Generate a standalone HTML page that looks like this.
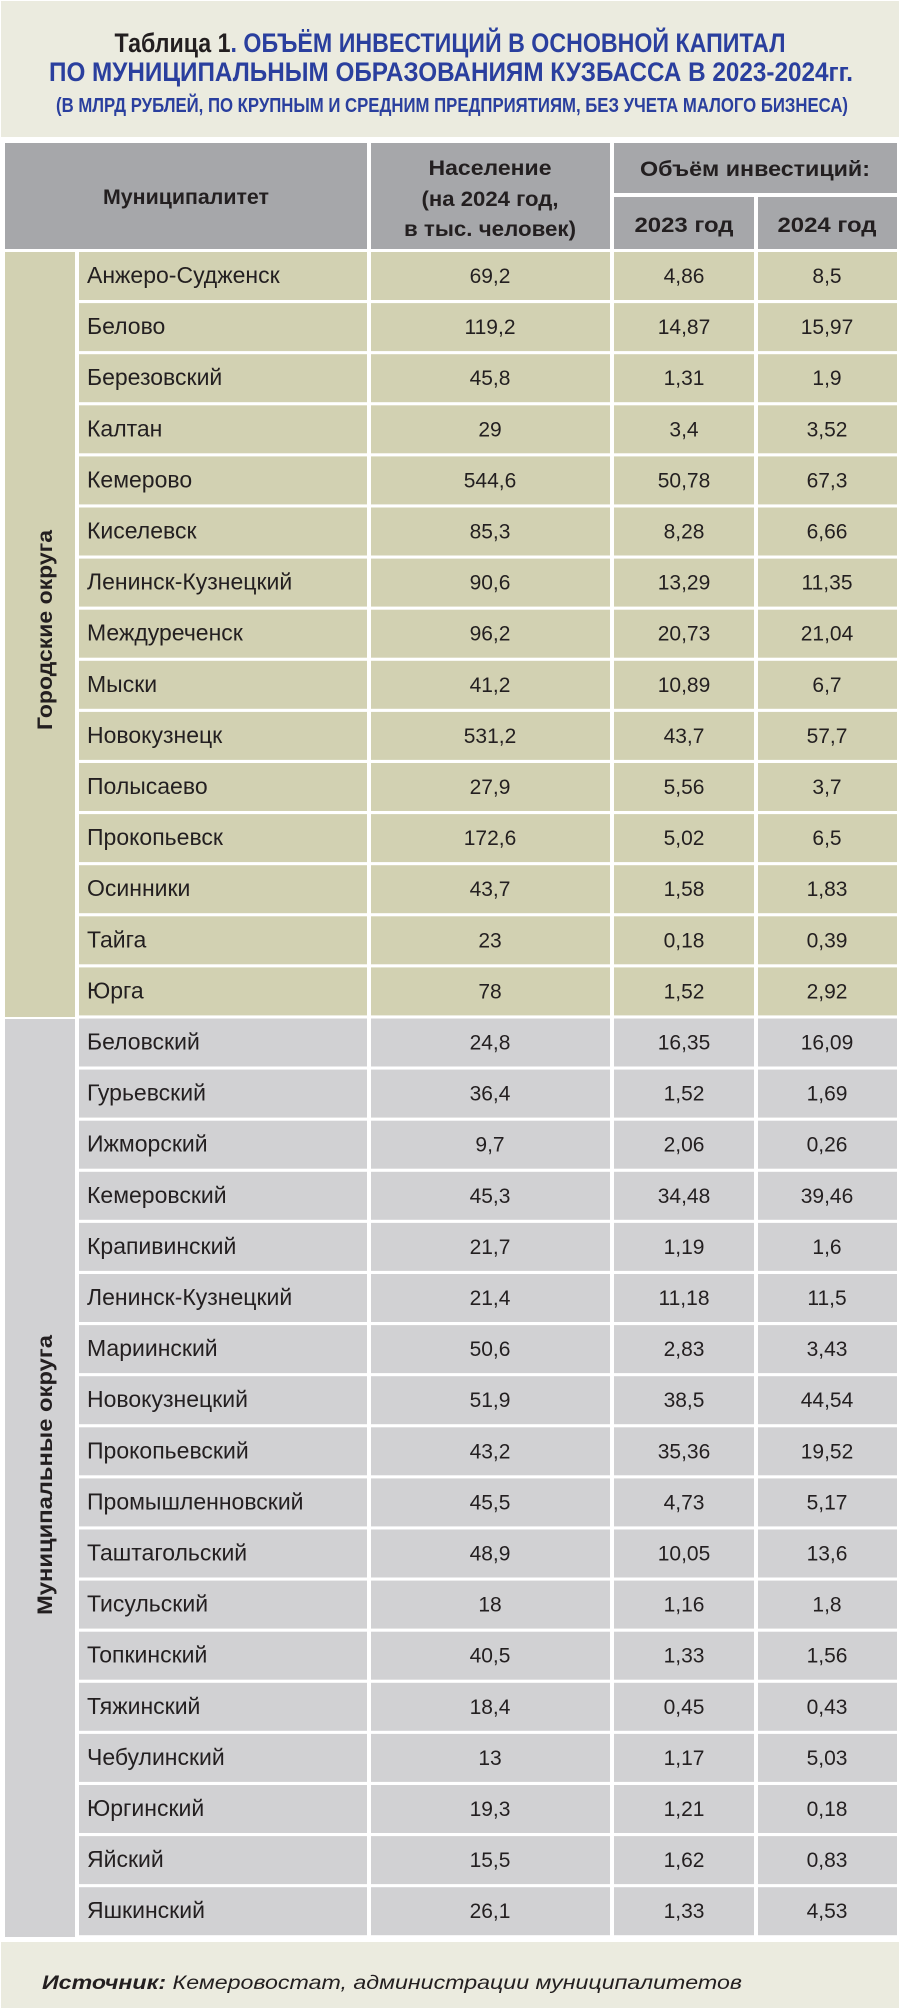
<!DOCTYPE html>
<html><head><meta charset="utf-8"><style>
html,body{margin:0;padding:0;background:#fff}
svg{display:block}
text{font-family:"Liberation Sans",sans-serif;fill:#231f20}
.r{font-size:21px}
.n{font-size:23px}
.h{font-size:21px;font-weight:bold}
</style></head><body>
<svg width="901" height="2009" viewBox="0 0 901 2009" xmlns="http://www.w3.org/2000/svg">
<rect x="0" y="0" width="901" height="2009" fill="#fff"/>
<rect x="1" y="1" width="898" height="136" fill="#ebebdf"/>
<text x="450" y="52" text-anchor="middle" font-weight="bold" font-size="27" textLength="671" lengthAdjust="spacingAndGlyphs"><tspan fill="#231f20">Таблица 1</tspan><tspan style="fill:#2a3f9e">. ОБЪЁМ ИНВЕСТИЦИЙ В ОСНОВНОЙ КАПИТАЛ</tspan></text>
<text x="451" y="81" text-anchor="middle" font-weight="bold" font-size="27" style="fill:#2a3f9e" textLength="804" lengthAdjust="spacingAndGlyphs">ПО МУНИЦИПАЛЬНЫМ ОБРАЗОВАНИЯМ КУЗБАССА В 2023-2024гг.</text>
<text x="452" y="112" text-anchor="middle" font-weight="bold" font-size="20" style="fill:#2a3f9e" textLength="792" lengthAdjust="spacingAndGlyphs">(В МЛРД РУБЛЕЙ, ПО КРУПНЫМ И СРЕДНИМ ПРЕДПРИЯТИЯМ, БЕЗ УЧЕТА МАЛОГО БИЗНЕСА)</text>

<g fill="#a6a7aa">
<rect x="5" y="143" width="362" height="106"/>
<rect x="371" y="143" width="239" height="106"/>
<rect x="614" y="143" width="283" height="50"/>
<rect x="614" y="197" width="140" height="52"/>
<rect x="758" y="197" width="139" height="52"/>
</g>
<text class="h" x="186" y="204" text-anchor="middle" textLength="166" lengthAdjust="spacingAndGlyphs">Муниципалитет</text>
<text class="h" x="490" y="175" text-anchor="middle" textLength="123" lengthAdjust="spacingAndGlyphs">Население</text>
<text class="h" x="490" y="206" text-anchor="middle" textLength="137" lengthAdjust="spacingAndGlyphs">(на 2024 год,</text>
<text class="h" x="490" y="236" text-anchor="middle" textLength="172" lengthAdjust="spacingAndGlyphs">в тыс. человек)</text>
<text class="h" x="755" y="176" text-anchor="middle" textLength="230" lengthAdjust="spacingAndGlyphs">Объём инвестиций:</text>
<text class="h" x="684" y="232" text-anchor="middle" textLength="99" lengthAdjust="spacingAndGlyphs">2023 год</text>
<text class="h" x="827" y="232" text-anchor="middle" textLength="99" lengthAdjust="spacingAndGlyphs">2024 год</text>

<rect x="5" y="252" width="70" height="765" fill="#d2d1b2"/>
<rect x="5" y="1019" width="70" height="918" fill="#d1d1d3"/>
<text class="h" transform="translate(52,630) rotate(-90)" text-anchor="middle" font-size="21" textLength="200" lengthAdjust="spacingAndGlyphs">Городские округа</text>
<text class="h" transform="translate(52,1475) rotate(-90)" text-anchor="middle" font-size="21" textLength="280" lengthAdjust="spacingAndGlyphs">Муниципальные округа</text>

<g id="rows"></g>

<rect x="1" y="1942" width="898" height="66" fill="#ebebdf"/>
<text x="42" y="1989" font-size="19" font-style="italic" textLength="700" lengthAdjust="spacingAndGlyphs"><tspan font-weight="bold">Источник:</tspan> Кемеровостат, администрации муниципалитетов</text>
</svg>
<script>
var d=[["Анжеро-Судженск","69,2","4,86","8,5"],["Белово","119,2","14,87","15,97"],["Березовский","45,8","1,31","1,9"],["Калтан","29","3,4","3,52"],["Кемерово","544,6","50,78","67,3"],["Киселевск","85,3","8,28","6,66"],["Ленинск-Кузнецкий","90,6","13,29","11,35"],["Междуреченск","96,2","20,73","21,04"],["Мыски","41,2","10,89","6,7"],["Новокузнецк","531,2","43,7","57,7"],["Полысаево","27,9","5,56","3,7"],["Прокопьевск","172,6","5,02","6,5"],["Осинники","43,7","1,58","1,83"],["Тайга","23","0,18","0,39"],["Юрга","78","1,52","2,92"],
["Беловский","24,8","16,35","16,09"],["Гурьевский","36,4","1,52","1,69"],["Ижморский","9,7","2,06","0,26"],["Кемеровский","45,3","34,48","39,46"],["Крапивинский","21,7","1,19","1,6"],["Ленинск-Кузнецкий","21,4","11,18","11,5"],["Мариинский","50,6","2,83","3,43"],["Новокузнецкий","51,9","38,5","44,54"],["Прокопьевский","43,2","35,36","19,52"],["Промышленновский","45,5","4,73","5,17"],["Таштагольский","48,9","10,05","13,6"],["Тисульский","18","1,16","1,8"],["Топкинский","40,5","1,33","1,56"],["Тяжинский","18,4","0,45","0,43"],["Чебулинский","13","1,17","5,03"],["Юргинский","19,3","1,21","0,18"],["Яйский","15,5","1,62","0,83"],["Яшкинский","26,1","1,33","4,53"]];
var g=document.getElementById('rows'),s='';
for(var i=0;i<d.length;i++){var y=252+i*51.1,c=i<15?'#d2d1b2':'#d1d1d3',ty=y+31;
s+='<rect x="79" y="'+y+'" width="288" height="48" fill="'+c+'"/><rect x="371" y="'+y+'" width="239" height="48" fill="'+c+'"/><rect x="614" y="'+y+'" width="140" height="48" fill="'+c+'"/><rect x="758" y="'+y+'" width="139" height="48" fill="'+c+'"/>';
s+='<text class="n" x="87" y="'+ty+'">'+d[i][0]+'</text><text class="r" x="490" y="'+ty+'" text-anchor="middle">'+d[i][1]+'</text><text class="r" x="684" y="'+ty+'" text-anchor="middle">'+d[i][2]+'</text><text class="r" x="827" y="'+ty+'" text-anchor="middle">'+d[i][3]+'</text>';}
g.innerHTML=s;
</script>
</body></html>
